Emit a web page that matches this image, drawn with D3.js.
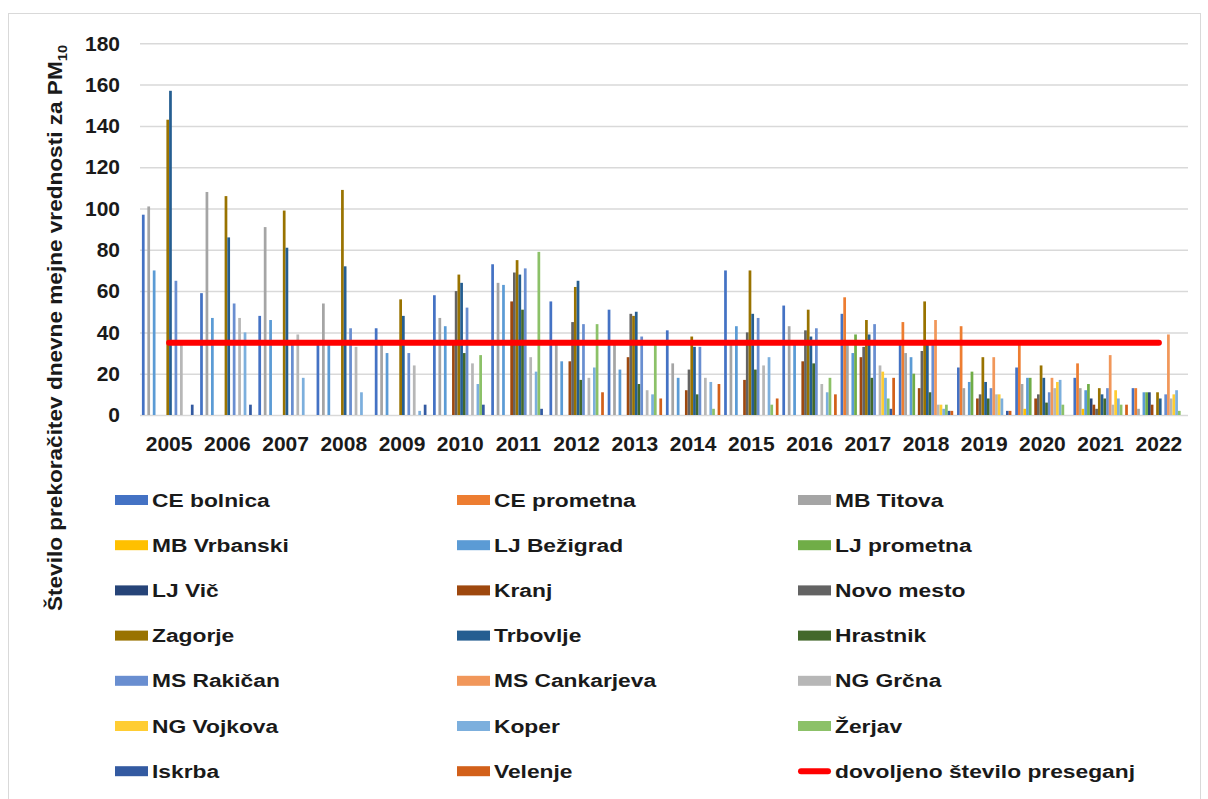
<!DOCTYPE html>
<html>
<head>
<meta charset="utf-8">
<script src="https://cdn.jsdelivr.net/npm/d3@7/dist/d3.min.js"></script>
<style>
    body { margin: 0; background: #fff; }
    text { font-family: "Liberation Sans", Arial, sans-serif; }
</style>
</head>
<body>
<div id="chart"></div>
<script>
// Years (categories)
const years = ["2005", "2006", "2007", "2008", "2009", "2010", "2011", "2012", "2013",
    "2014", "2015", "2016", "2017", "2018", "2019", "2020", "2021", "2022"];

// Stations and their colours
const seriesNames = ["CE bolnica", "CE prometna", "MB Titova", "MB Vrbanski", "LJ Bežigrad",
    "LJ prometna", "LJ Vič", "Kranj", "Novo mesto", "Zagorje", "Trbovlje", "Hrastnik",
    "MS Rakičan", "MS Cankarjeva", "NG Grčna", "NG Vojkova", "Koper", "Žerjav", "Iskrba", "Velenje"];
const seriesColors = ["#4472C4", "#ED7D31", "#A5A5A5", "#FFC000", "#5B9BD5",
    "#70AD47", "#264478", "#9E480E", "#636363", "#997300", "#255E91", "#43682B",
    "#698ED0", "#F1975A", "#B7B7B7", "#FFCD33", "#7CAFDD", "#8CC168", "#335AA1", "#D2601A"];

// Number of exceedances per station, 2005 - 2022 (0 = no data)
const ceBolnica    = [97, 59, 48, 35, 42, 58, 73, 55, 51, 41, 70, 53, 49, 35, 23, 23, 18, 13];
const cePrometna   = [0, 0, 0, 0, 0, 0, 0, 0, 0, 0, 0, 0, 57, 45, 43, 34, 25, 13];
const mbTitova     = [101, 108, 91, 54, 35, 47, 64, 35, 35, 25, 35, 43, 35, 30, 13, 15, 13, 3];
const mbVrbanski   = [0, 0, 0, 0, 0, 0, 0, 0, 0, 0, 0, 0, 0, 0, 0, 3, 3, 0];
const ljBezigrad   = [70, 47, 46, 35, 30, 43, 63, 26, 22, 18, 43, 35, 30, 28, 16, 18, 12, 11];
const ljPrometna   = [0, 0, 0, 0, 0, 0, 0, 0, 0, 0, 0, 0, 39, 20, 21, 18, 15, 11];
const ljVic        = [0, 0, 0, 0, 0, 0, 0, 0, 0, 0, 0, 0, 0, 0, 0, 0, 8, 11];
const kranj        = [0, 0, 0, 0, 0, 35, 55, 26, 28, 12, 17, 26, 28, 13, 8, 8, 5, 5];
const novoMesto    = [0, 0, 0, 0, 0, 60, 69, 45, 49, 22, 40, 41, 33, 31, 10, 10, 3, 0];
const zagorje      = [143, 106, 99, 109, 56, 68, 75, 62, 48, 38, 70, 51, 46, 55, 28, 24, 13, 11];
const trbovlje     = [157, 86, 81, 72, 48, 64, 68, 65, 50, 33, 49, 38, 39, 35, 16, 18, 10, 8];
const hrastnik     = [0, 0, 0, 0, 0, 30, 51, 17, 15, 10, 22, 25, 18, 11, 8, 6, 8, 0];
const msRakican    = [65, 54, 35, 42, 30, 52, 71, 44, 38, 33, 47, 42, 44, 35, 13, 11, 13, 10];
const msCankarjeva = [0, 0, 0, 0, 0, 0, 0, 0, 0, 0, 0, 0, 0, 46, 28, 18, 29, 39];
const ngGrcna      = [35, 47, 39, 33, 24, 25, 28, 18, 12, 18, 24, 15, 24, 5, 10, 13, 5, 8];
const ngVojkova    = [0, 0, 0, 0, 0, 0, 0, 0, 0, 0, 0, 0, 21, 5, 10, 16, 12, 10];
const koper        = [0, 40, 18, 11, 2, 15, 21, 23, 10, 16, 28, 11, 18, 3, 8, 17, 8, 12];
const zerjav       = [0, 0, 0, 0, 0, 29, 79, 44, 35, 3, 5, 18, 8, 5, 0, 5, 5, 2];
const iskrba       = [5, 5, 0, 0, 5, 5, 3, 0, 0, 0, 0, 0, 3, 2, 2, 0, 0, 0];
const velenje      = [0, 0, 0, 0, 0, 0, 0, 11, 8, 15, 8, 10, 18, 2, 2, 0, 5, 0];

const seriesValues = [ceBolnica, cePrometna, mbTitova, mbVrbanski, ljBezigrad, ljPrometna,
    ljVic, kranj, novoMesto, zagorje, trbovlje, hrastnik, msRakican, msCankarjeva,
    ngGrcna, ngVojkova, koper, zerjav, iskrba, velenje];

// Allowed number of exceedances
const limitLabel = "dovoljeno število preseganj";
const limitValues = [35, 35, 35, 35, 35, 35, 35, 35, 35, 35, 35, 35, 35, 35, 35, 35, 35, 35];

// Y axis ticks
const yTicks = [0, 20, 40, 60, 80, 100, 120, 140, 160, 180];

const width = 1208, height = 799;
const plot = { left: 140, right: 1188, top: 43.3, bottom: 415 };

const svg = d3.select("#chart")
    .append("svg")
    .attr("width", width)
    .attr("height", height);

// Chart frame
svg.append("rect")
    .attr("x", 8.5).attr("y", 13.5)
    .attr("width", 1192).attr("height", 800)
    .attr("fill", "none")
    .attr("stroke", "#d9d9d9");

// Scales
const y = d3.scaleLinear().domain([0, 180]).range([plot.bottom, plot.top]);
const x0 = d3.scaleBand().domain(years).range([plot.left, plot.right]);
const x1 = d3.scaleBand().domain(seriesNames).range([0, x0.bandwidth()]).paddingOuter(0.7);

// Y axis + gridlines
const yAxis = svg.append("g")
    .attr("transform", `translate(${plot.left},0)`)
    .call(d3.axisLeft(y).tickValues(yTicks).tickSize(-(plot.right - plot.left)).tickPadding(20));
yAxis.select(".domain").remove();
yAxis.selectAll("line").attr("stroke", "#d9d9d9").attr("stroke-width", 1.5);
yAxis.selectAll("text")
    .attr("font-size", 21)
    .attr("font-weight", "bold")
    .attr("fill", "#1a1a1a");

// X axis
const xAxis = svg.append("g")
    .attr("transform", `translate(0,${plot.bottom})`)
    .call(d3.axisBottom(x0).tickSize(0).tickPadding(21));
xAxis.select(".domain").remove();
xAxis.selectAll("text")
    .attr("font-size", 21)
    .attr("font-weight", "bold")
    .attr("fill", "#1a1a1a");

// Bars
const groups = svg.append("g")
    .selectAll("g")
    .data(years)
    .join("g")
    .attr("transform", d => `translate(${x0(d)},0)`);

groups.selectAll("rect")
    .data((yr, i) => seriesNames.map((name, s) => ({ name, color: seriesColors[s], value: seriesValues[s][i] })))
    .join("rect")
    .filter(d => d.value > 0)
    .attr("x", d => x1(d.name))
    .attr("y", d => y(d.value))
    .attr("width", x1.bandwidth())
    .attr("height", d => y(0) - y(d.value))
    .attr("fill", d => d.color);

// Limit line
const line = d3.line()
    .x((d, i) => x0(years[i]) + x0.bandwidth() / 2)
    .y(d => y(d));

svg.append("path")
    .datum(limitValues)
    .attr("d", line)
    .attr("fill", "none")
    .attr("stroke", "#FF0000")
    .attr("stroke-width", 6)
    .attr("stroke-linecap", "round");

// Y axis title (slightly stretched like the original)
const title = svg.append("text")
    .attr("transform", "translate(62,328) rotate(-90) scale(1.13,1)")
    .attr("text-anchor", "middle")
    .attr("font-size", 20)
    .attr("font-weight", "bold")
    .attr("fill", "#1a1a1a");
title.append("tspan").text("Število prekoračitev dnevne mejne vrednosti za PM");
title.append("tspan").attr("font-size", 13).attr("dy", 5).text("10");

// Legend
const legendItems = seriesNames.map((name, i) => ({ name, color: seriesColors[i], type: "bar" }));
legendItems.push({ name: limitLabel, color: "#FF0000", type: "line" });

const legendCols = [115, 457, 798];
const legend = svg.append("g")
    .selectAll("g")
    .data(legendItems)
    .join("g")
    .attr("transform", (d, i) => `translate(${legendCols[i % 3]},${500 + Math.floor(i / 3) * 45.2})`);

legend.filter(d => d.type === "bar")
    .append("rect")
    .attr("x", 0).attr("y", -5)
    .attr("width", 33).attr("height", 10)
    .attr("fill", d => d.color);

legend.filter(d => d.type === "line")
    .append("line")
    .attr("x1", 3).attr("x2", 30)
    .attr("stroke", d => d.color)
    .attr("stroke-width", 6)
    .attr("stroke-linecap", "round");

legend.append("text")
    .attr("transform", "translate(37,0) scale(1.2,1)")
    .attr("dy", "0.35em")
    .attr("font-size", 19)
    .attr("font-weight", "bold")
    .attr("fill", "#1a1a1a")
    .text(d => d.name);
</script>
</body>
</html>
